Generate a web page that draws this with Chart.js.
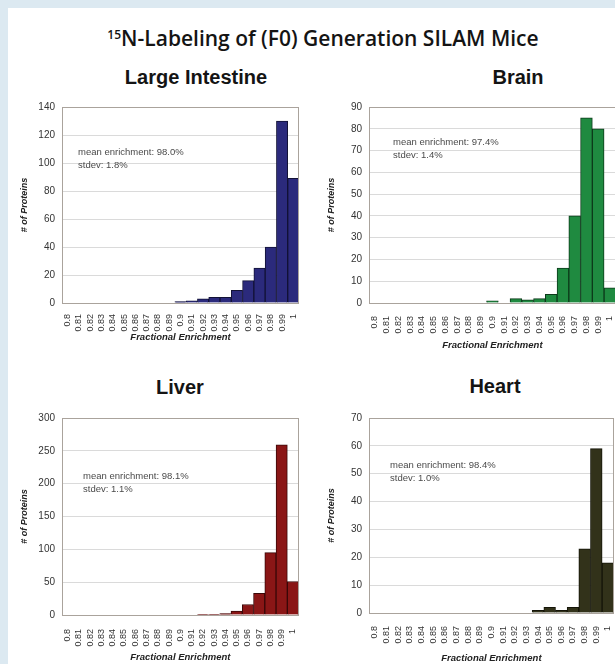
<!DOCTYPE html>
<html><head><meta charset="utf-8">
<script src="https://cdn.jsdelivr.net/npm/chart.js@4/dist/chart.umd.min.js"></script>
<style>
html,body{margin:0;padding:0;width:615px;height:664px;overflow:hidden;background:#dce9f1;}
#panel{position:absolute;left:8px;top:8px;width:620px;height:670px;background:#fff;}
canvas{position:absolute;}
.h{position:absolute;font-family:"Liberation Sans",Arial,sans-serif;font-weight:bold;font-size:20px;color:#141414;transform:translate(-50%,-50%);white-space:nowrap;}
#main{font-family:"Open Sans",sans-serif;font-weight:600;font-size:21px;}
#main sup{font-size:12px;vertical-align:7px;line-height:0;}
.note{position:absolute;font-family:"Liberation Sans",Arial,sans-serif;font-size:9.5px;color:#4a4a4a;white-space:nowrap;line-height:13px;}
</style></head>
<body>
<div id="panel"></div>
<div class="h" id="main" style="left:323px;top:38px;"><sup>15</sup>N-Labeling of (F0) Generation SILAM Mice</div>
<div class="h" style="left:196px;top:77px;">Large Intestine</div>
<div class="h" style="left:518px;top:77px;">Brain</div>
<div class="h" style="left:180px;top:387px;">Liver</div>
<div class="h" style="left:495px;top:386px;">Heart</div>
<canvas id="c1"></canvas>
<canvas id="c2"></canvas>
<canvas id="c3"></canvas>
<canvas id="c4"></canvas>
<div class="note" style="left:78px;top:145px;">mean enrichment: 98.0%<br>stdev: 1.8%</div>
<div class="note" style="left:393px;top:135px;">mean enrichment: 97.4%<br>stdev: 1.4%</div>
<div class="note" style="left:83px;top:469px;">mean enrichment: 98.1%<br>stdev: 1.1%</div>
<div class="note" style="left:390px;top:458px;">mean enrichment: 98.4%<br>stdev: 1.0%</div>
<script>
// ---- data ----
const categories = ["0.8","0.81","0.82","0.83","0.84","0.85","0.86","0.87","0.88","0.89","0.9","0.91","0.92","0.93","0.94","0.95","0.96","0.97","0.98","0.99","1"];
const largeIntestine = [0,0,0,0,0,0,0,0,0,0,1,1.5,3,4,4,9,16,25,40,130,89];
const brain          = [0,0,0,0,0,0,0,0,0,0,1,0,2,1.5,2,4,16,40,85,80,7];
const liver          = [0,0,0,0,0,0,0,0,0,0,0,0,1,1,2,6,16,33,95,259,51];
const heart          = [0,0,0,0,0,0,0,0,0,0,0,0,0,0,1,2,1,2,23,59,18];
const yTicksLI    = {max:140, step:20};
const yTicksBrain = {max:90,  step:10};
const yTicksLiver = {max:300, step:50};
const yTicksHeart = {max:70,  step:10};
const xTitle = "Fractional Enrichment";
const yTitle = "# of Proteins";

const FONT = "'Liberation Sans', Arial, sans-serif";
const frame = {
  id:'frame',
  afterDraw(chart){
    const {ctx, chartArea:a} = chart;
    ctx.save();
    ctx.strokeStyle = '#aaa39c';
    ctx.lineWidth = 1;
    ctx.strokeRect(Math.round(a.left)+0.5, Math.round(a.top)+0.5, Math.round(a.right-a.left)-1, Math.round(a.bottom-a.top));
    ctx.restore();
  }
};

function makeChart(id, box, values, ticks, fill, edge){
  const c = document.getElementById(id);
  c.style.left = box.L+'px'; c.style.top = box.T+'px';
  c.style.width = box.W+'px'; c.style.height = box.H+'px';
  c.width = box.W; c.height = box.H;
  return new Chart(c, {
    type:'bar',
    data:{labels:categories, datasets:[{data:values, backgroundColor:fill, borderColor:edge, borderWidth:1, barPercentage:1, categoryPercentage:1}]},
    options:{
      responsive:false, animation:false,
      layout:{padding:{top:8, right:10, left:0, bottom:0}},
      plugins:{legend:{display:false}, tooltip:{enabled:false}},
      scales:{
        x:{
          grid:{display:false}, border:{display:false},
          ticks:{autoSkip:false, minRotation:90, maxRotation:90, padding:box.xp, color:'#333', font:{family:FONT, size:9}},
          title:{display:true, text:xTitle, color:'#222', font:{family:FONT, size:9.5, weight:'bold', style:'italic'}, padding:{top:0, bottom:4}},
          afterFit(s){ s.height = box.XH; }
        },
        y:{
          min:0, max:ticks.max,
          grid:{color:'#dadada', drawTicks:false}, border:{display:false},
          ticks:{stepSize:ticks.step, padding:7, color:'#333', font:{family:FONT, size:10}},
          title:{display:true, text:yTitle, color:'#222', font:{family:FONT, size:9, weight:'bold', style:'italic'}, padding:{top:7, bottom:0}},
          afterFit(s){ s.width = 50; }
        }
      }
    },
    plugins:[frame]
  });
}

makeChart('c1', {L:12,  T:94,  W:297, H:253, XH:44, xp:3}, largeIntestine, yTicksLI,    '#2b2a7c', '#121236');
makeChart('c2', {L:319, T:94,  W:307, H:261, XH:52, xp:5}, brain,          yTicksBrain, '#1f8a40', '#0c3a1a');
makeChart('c3', {L:12,  T:405, W:298, H:262, XH:52, xp:6}, liver,          yTicksLiver, '#8a1616', '#3a0808');
makeChart('c4', {L:319, T:405, W:305, H:263, XH:55, xp:5}, heart,          yTicksHeart, '#32321a', '#141408');
</script>
</body></html>
